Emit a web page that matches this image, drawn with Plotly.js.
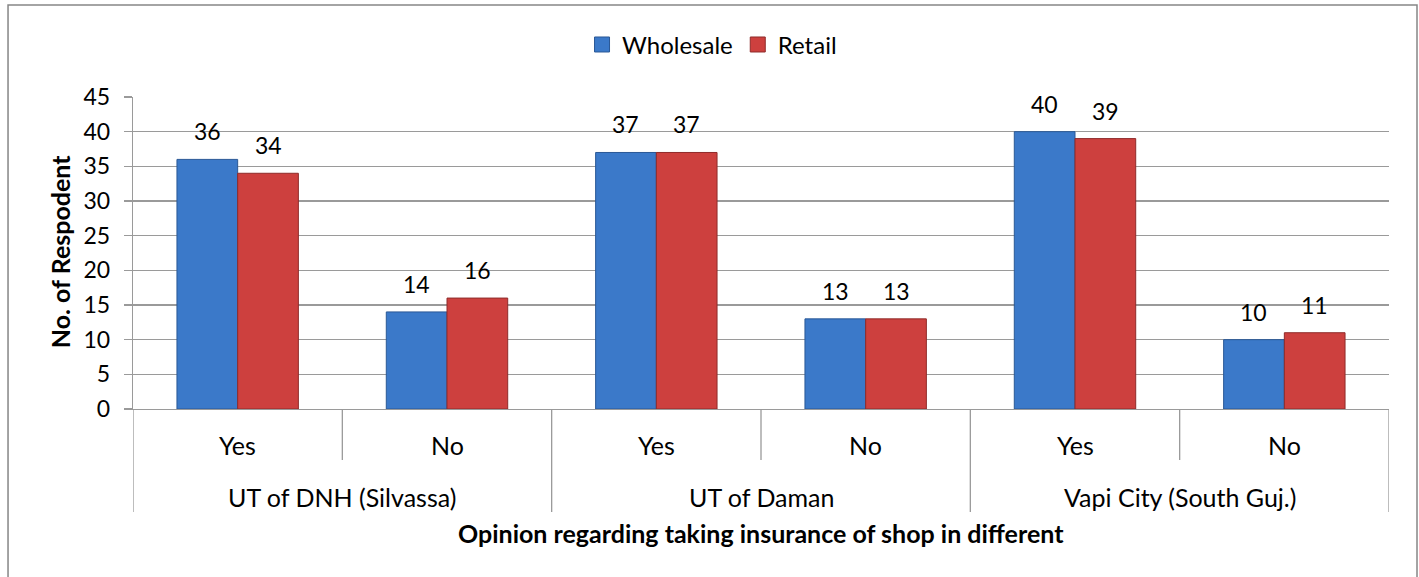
<!DOCTYPE html>
<html><head><meta charset="utf-8">
<script src="https://cdn.plot.ly/plotly-3.0.1.min.js"></script>
<style>html,body{margin:0;padding:0;background:#fff}</style>
</head><body><div id="chart" style="width:1419px;height:577px"></div>
<script>
const regions = ['UT of DNH (Silvassa)', 'UT of Daman', 'Vapi City (South Guj.)'];
const answers = ['Yes', 'No', 'Yes', 'No', 'Yes', 'No'];
const wholesale = [36, 14, 37, 13, 40, 10];
const retail = [34, 16, 37, 13, 39, 11];
const yTicks = [0, 5, 10, 15, 20, 25, 30, 35, 40, 45];
const seriesNames = ['Wholesale', 'Retail'];
const xTitle = 'Opinion regarding taking insurance of shop in different';
const yTitle = 'No. of Respodent';

const FONT = 'Lato, "Open Sans", sans-serif';
const idx = answers.map((_, i) => i);
const BW = 0.29;
const BLUE = '#3B79C9', BLUE_EDGE = '#2A5896';
const RED = '#CD403E', RED_EDGE = '#8F2B2A';

const traces = [
  {type:'bar', name: seriesNames[0], x: idx, y: wholesale, showlegend:false,
   marker:{color:BLUE, line:{color:BLUE_EDGE, width:1}}, hoverinfo:'none'},
  {type:'bar', name: seriesNames[1], x: idx, y: retail, showlegend:false,
   marker:{color:RED, line:{color:RED_EDGE, width:1}}, hoverinfo:'none'},
  {type:'scatter', mode:'markers', name: seriesNames[0], x:[null], y:[null], showlegend:true,
   marker:{symbol:'square', size:15, color:BLUE, line:{color:BLUE_EDGE, width:1}}},
  {type:'scatter', mode:'markers', name: seriesNames[1], x:[null], y:[null], showlegend:true,
   marker:{symbol:'square', size:15, color:RED, line:{color:RED_EDGE, width:1}}}
];

const GRAY = '#9a9a9a';
const shapes = [];
for (let b = 0; b <= answers.length; b++) {
  const long = (b % 2 === 0);
  shapes.push({type:'line', xref:'x', yref:'paper', x0: b - 0.5, x1: b - 0.5,
    y0: 0, y1: long ? -0.330 : -0.1635, line:{color: GRAY, width:1.3}});
}
shapes.push({type:'rect', xref:'paper', yref:'paper', x0:-0.0995, x1:1.0223, y0:-0.56, y1:1.2949,
  line:{color:'#868686', width:1.5}});

const annotations = [];
answers.forEach((a, i) => annotations.push({xref:'x', yref:'paper', x:i, y:-0.1154, text:a,
  showarrow:false, yanchor:'middle', font:{family:FONT, size:25, color:'#000'}}));
regions.forEach((r, g) => annotations.push({xref:'x', yref:'paper', x: g*2 + 0.5, y:-0.282, text:r,
  showarrow:false, yanchor:'middle', font:{family:FONT, size:25, color:'#000'}}));
wholesale.forEach((v, i) => annotations.push({xref:'x', yref:'y', x: i - BW/2, y: v, text: String(v),
  showarrow:false, yanchor:'bottom', yshift:12, font:{family:FONT, size:23, color:'#000'}}));
retail.forEach((v, i) => annotations.push({xref:'x', yref:'y', x: i + BW/2, y: v, text: String(v),
  showarrow:false, yanchor:'bottom', yshift:12, font:{family:FONT, size:23, color:'#000'}}));
annotations.push({xref:'paper', yref:'paper', x:0.5, y:-0.397, text:'<b>' + xTitle + '</b>',
  showarrow:false, yanchor:'middle', font:{family:FONT, size:25, color:'#000'}});
annotations.push({xref:'paper', yref:'paper', x:-0.058, y:0.503, text:'<b>' + yTitle + '</b>',
  textangle:-90, showarrow:false, xanchor:'center', yanchor:'middle', font:{family:FONT, size:25, color:'#000'}});

const layout = {
  width:1419, height:577,
  margin:{l:133, r:30, t:97, b:168, pad:0},
  paper_bgcolor:'#fff', plot_bgcolor:'#fff',
  barmode:'group', bargap:0.42, bargroupgap:0,
  font:{family:FONT, color:'#000'},
  showlegend:true,
  legend:{orientation:'h', x:0.3575, xanchor:'left', y:1.167, yanchor:'middle',
    font:{family:FONT, size:24, color:'#000'}, itemclick:false, bgcolor:'rgba(0,0,0,0)'},
  xaxis:{range:[-0.5, 5.5], showticklabels:false, showgrid:false, zeroline:false,
    showline:true, linecolor:GRAY, linewidth:1.3, ticks:'', fixedrange:true},
  yaxis:{range:[0, 45], tickvals:yTicks, ticktext:yTicks.map(String), ticks:'outside', ticklen:8,
    tickcolor:GRAY, tickwidth:1.3, gridcolor:GRAY, gridwidth:1.3, showline:true, linecolor:GRAY, linewidth:1.3,
    zeroline:false, ticklabelstandoff:9, tickfont:{family:FONT, size:23, color:'#000'}, fixedrange:true},
  shapes: shapes,
  annotations: annotations
};
Plotly.newPlot('chart', traces, layout, {displayModeBar:false, staticPlot:true});
</script></body></html>
